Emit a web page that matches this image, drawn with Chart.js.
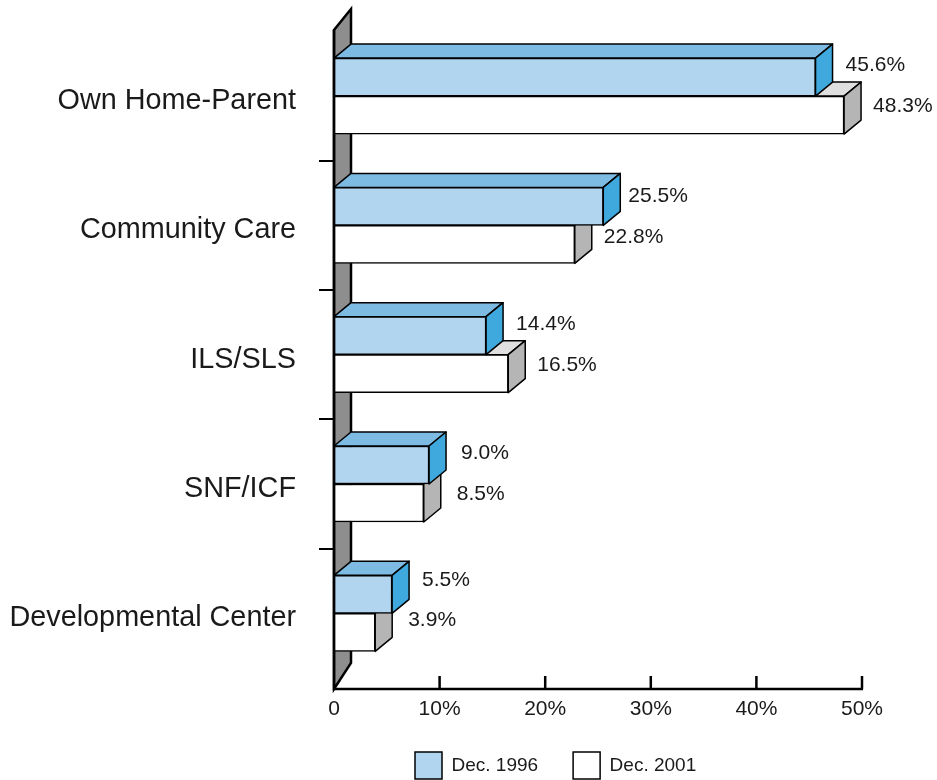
<!DOCTYPE html>
<html>
<head>
<meta charset="utf-8">
<title>Living arrangement</title>
<script src="https://cdn.jsdelivr.net/npm/chart.js@4"></script>
<style>
    html, body { margin: 0; padding: 0; background: #fff; }
    canvas { display: block; }
</style>
</head>
<body>
<canvas id="chart" width="937" height="780"></canvas>
<script>
    const categories = ["Own Home-Parent", "Community Care", "ILS/SLS", "SNF/ICF", "Developmental Center"];
    const dec1996 = [45.6, 25.5, 14.4, 9.0, 5.5];
    const dec2001 = [48.3, 22.8, 16.5, 8.5, 3.9];
    const seriesNames = ["Dec. 1996", "Dec. 2001"];
    const xTicks = [0, 10, 20, 30, 40, 50];

    const FONT = "'Liberation Sans', Arial, sans-serif";
    const INK = "#1a1a1a";
    const DEPTH = { x: 17, y: -14 };   // bar extrusion
    const FACES = [
        { top: "#7dbbe3", side: "#3fa9de" },
        { top: "#dfdfdf", side: "#b5b5b5" }
    ];
    // value labels were hand placed in the original: [dx, dy] from the bar end
    const LABEL_NUDGE = [
        [[30, -12], [25, -10], [30, -11], [32, -12], [30, -14]],
        [[29, -9], [29, -7], [29, -8], [33, -9], [33, -12]]
    ];

    function poly(ctx, pts, fill, stroke, width) {
        ctx.beginPath();
        pts.forEach((p, i) => i ? ctx.lineTo(p[0], p[1]) : ctx.moveTo(p[0], p[1]));
        ctx.closePath();
        ctx.fillStyle = fill;
        ctx.fill();
        ctx.lineWidth = width;
        ctx.strokeStyle = stroke;
        ctx.stroke();
    }

    /* ---------------- Wall, 3D faces, axis, value labels ---------------- */
    const fakeThreeD = {
        id: "fakeThreeD",
        afterLayout(chart) {
            // legend sits left of centre in the original, boxes get clipped otherwise
            const lg = chart.legend;
            lg.left = 380;
            lg.top = 717;
            lg.bottom = 780;
            // tick labels hang below the raised axis
            chart.scales.x.bottom = 740;
        },
        beforeDatasetsDraw(chart) {
            const { ctx, chartArea: a } = chart;
            ctx.save();
            poly(ctx, [[a.left, 30], [a.left + 17, 9], [a.left + 17, 663], [a.left, 689]], "#8e8e8e", "#000", 2.5);
            ctx.restore();
        },
        beforeDatasetDraw(chart, args) {
            const { ctx } = chart;
            const face = FACES[args.index];
            ctx.save();
            ctx.lineJoin = "round";
            args.meta.data.forEach((bar) => {
                const top = bar.y - bar.height / 2;
                const bot = bar.y + bar.height / 2;
                const l = bar.base, r = bar.x;
                poly(ctx, [[l, top], [l + DEPTH.x, top + DEPTH.y], [r + DEPTH.x, top + DEPTH.y], [r, top]], face.top, "#000", 1.5);
                poly(ctx, [[r, top], [r + DEPTH.x, top + DEPTH.y], [r + DEPTH.x, bot + DEPTH.y], [r, bot]], face.side, "#000", 1.5);
            });
            ctx.restore();
        },
        afterDatasetsDraw(chart) {
            const { ctx, chartArea: a, scales: { x } } = chart;
            const axisY = 689;
            ctx.save();
            ctx.strokeStyle = "#000";
            ctx.lineWidth = 2.5;
            ctx.beginPath();
            ctx.moveTo(a.left, 30);
            ctx.lineTo(a.left, axisY);
            ctx.lineTo(x.getPixelForValue(50) + 1, axisY);
            xTicks.forEach((v) => {
                if (!v) return;
                ctx.moveTo(x.getPixelForValue(v), axisY);
                ctx.lineTo(x.getPixelForValue(v), axisY - 13);
            });
            ctx.stroke();

            ctx.fillStyle = INK;
            ctx.font = "21px " + FONT;
            ctx.textAlign = "left";
            ctx.textBaseline = "middle";
            chart.data.datasets.forEach((ds, di) => {
                chart.getDatasetMeta(di).data.forEach((bar, i) => {
                    const n = LABEL_NUDGE[di][i];
                    ctx.fillText(ds.data[i].toFixed(1) + "%", bar.x + n[0], bar.y + n[1]);
                });
            });
            ctx.restore();
        }
    };

    new Chart(document.getElementById("chart"), {
        type: "bar",
        plugins: [fakeThreeD],
        data: {
            labels: categories,
            datasets: [
                { label: seriesNames[0], data: dec1996, backgroundColor: "#b1d4ef", borderColor: "#000", borderWidth: 1.5, borderSkipped: false, barThickness: 38 },
                { label: seriesNames[1], data: dec2001, backgroundColor: "#ffffff", borderColor: "#000", borderWidth: 1.5, borderSkipped: false, barThickness: 38 }
            ]
        },
        options: {
            indexAxis: "y",
            responsive: false,
            animation: false,
            layout: { padding: { top: 31.4, right: 75, bottom: 30, left: 0 } },
            scales: {
                x: {
                    min: 0,
                    max: 50,
                    grid: { display: false },
                    border: { display: false },
                    afterFit(scale) { scale.height = 0; },
                    afterBuildTicks(scale) { scale.ticks = xTicks.map(v => ({ value: v })); },
                    ticks: {
                        autoSkip: false,
                        maxRotation: 0,
                        padding: 11,
                        color: INK,
                        font: { family: FONT, size: 21 },
                        callback: v => v === 0 ? "0" : v + "%"
                    }
                },
                y: {
                    afterFit(scale) {
                        scale.width = 334;
                        scale.paddingTop = 0;
                        scale.paddingBottom = 0;
                    },
                    border: { display: false },
                    grid: {
                        offset: true,
                        drawOnChartArea: false,
                        drawTicks: true,
                        tickLength: 15,
                        lineWidth: 2,
                        // outer band edges have no tick, the closing line gets a scale context
                        color: (c) => (c.type !== "tick" || c.index === 0) ? "rgba(0,0,0,0)" : "#000"
                    },
                    ticks: {
                        autoSkip: false,
                        padding: 23,
                        labelOffset: 5,
                        color: INK,
                        font: { family: FONT, size: 28.8 }
                    }
                }
            },
            plugins: {
                tooltip: { enabled: false },
                legend: {
                    position: "bottom",
                    align: "start",
                    labels: {
                        boxWidth: 27,
                        boxHeight: 27,
                        padding: 35,
                        color: INK,
                        font: { family: FONT, size: 19 }
                    }
                }
            }
        }
    });
</script>
</body>
</html>
